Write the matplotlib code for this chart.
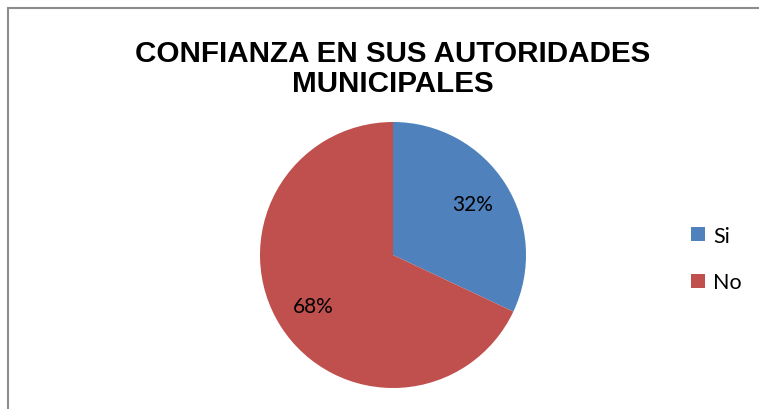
import matplotlib.pyplot as plt
from matplotlib.patches import Rectangle

labels = ['Si', 'No']
values = [32, 68]
colors = ['#4F81BD', '#C0504D']
title = 'CONFIANZA EN SUS AUTORIDADES\nMUNICIPALES'

W, H = 759, 410
fig = plt.figure(figsize=(W / 100, H / 100), dpi=100)

# chart area border (only top/left visible in the crop)
fig.patches.append(Rectangle((8 / W, -0.1), 1.1, (H - 9) / H + 0.1,
                             transform=fig.transFigure, fill=False,
                             edgecolor='#8c8c8c', linewidth=1.5))

cx, cy, r = 393, 256, 133
ax = fig.add_axes([(cx - r) / W, (H - cy - r) / H, 2 * r / W, 2 * r / H])
wedges, texts, autotexts = ax.pie(values, colors=colors, startangle=90,
                                  counterclock=False, autopct='%1.0f%%',
                                  pctdistance=0.71,
                                  textprops={'fontsize': 15, 'family': 'Lato'})
ax.set_xlim(-1, 1)
ax.set_ylim(-1, 1)
ax.set_aspect('equal')

fig.text(393 / W, (H - 69) / H, title, ha='center', va='center',
         fontsize=21.3, fontweight='bold', family='Liberation Sans',
         linespacing=1.12)

fig.legend(wedges, labels, loc='center left',
           bbox_to_anchor=(672 / W, (H - 260) / H), frameon=False,
           prop={'family': 'Lato', 'size': 15.5},
           handlelength=0.65, handleheight=0.65, handletextpad=0.35,
           labelspacing=1.25)

fig.savefig('out.png', dpi=100)
